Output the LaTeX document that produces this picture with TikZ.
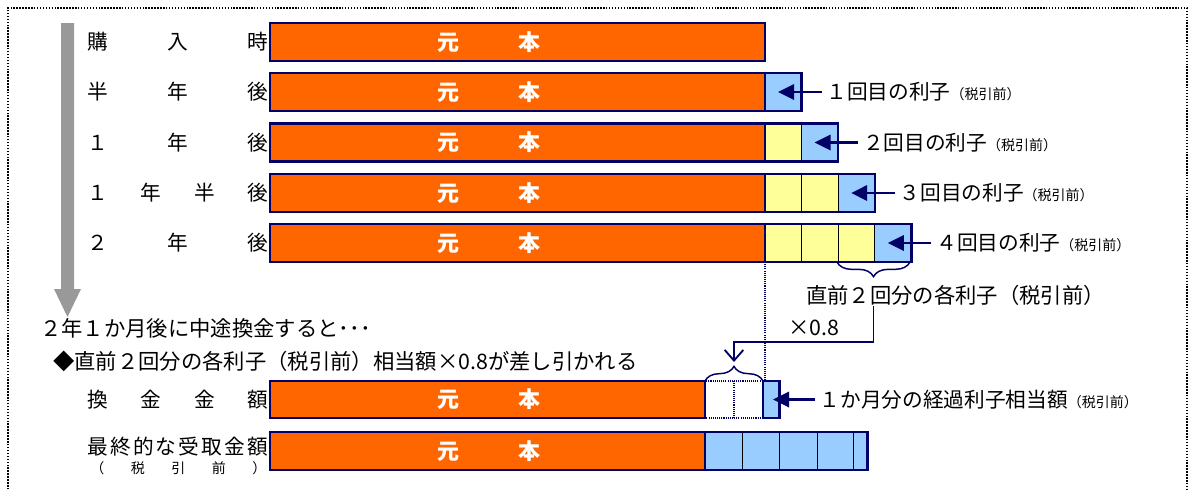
\documentclass[tikz,border=0pt]{standalone}
\usepackage{fontspec}
\setmainfont{Noto Sans CJK JP}
\usepackage{tikz}
\usetikzlibrary{arrows.meta,decorations.pathreplacing}

\definecolor{navyline}{HTML}{000066}
\definecolor{orangebar}{HTML}{FF6600}
\definecolor{cellblue}{HTML}{99CCFF}
\definecolor{cellyellow}{HTML}{FFFF99}
\definecolor{arrowgray}{HTML}{999999}

\newcommand{\spreadbox}[2]{\makebox[#1]{#2}}
\newcommand{\taxnote}{{\fontsize{10.5pt}{12pt}\selectfont （税引前）}}

\tikzset{
  principal/.style={fill=orangebar, draw=navyline, line width=1.7pt},
  cellyel/.style={fill=cellyellow, draw=black, line width=0.75pt},
  cellblu/.style={fill=cellblue, draw=black, line width=0.75pt},
  celledge/.style={draw=navyline, line width=1.7pt},
  dotedge/.style={draw=navyline, line width=1.1pt, dash pattern=on 0.8pt off 0.8pt},
  rowlabel/.style={anchor=west, inner sep=0pt, font=\fontsize{15.5pt}{18pt}\selectfont},
  pricelabel/.style={inner sep=0pt, text=white, font=\fontsize{16.5pt}{19pt}\selectfont\bfseries},
  notelabel/.style={anchor=west, inner xsep=3.5pt, inner ysep=0.75pt, font=\fontsize{15.5pt}{18pt}\selectfont},
  pointer/.style={draw=navyline, line width=1.8pt, -{Triangle[length=12pt,width=11.5pt]}},
  bentpointer/.style={draw=navyline, line width=1.4pt, -{Straight Barb[length=8pt,width=14pt]}},
  curly/.style={draw=navyline, line width=1.1pt, decorate, decoration={brace, amplitude=11pt}},
  frameline/.style={draw=black, line width=1.1pt, dash pattern=on 1.1pt off 1.1pt}
}

\begin{document}
\begin{tikzpicture}[x=0.75pt,y=0.75pt,yscale=-1,xscale=1]
\useasboundingbox (0,0) rectangle (1192,490);

%Shape: Frame
\draw [frameline] (8,510) -- (8,8) -- (1187,8) -- (1187,510) ;
%Shape: Gray time arrow
\fill [arrowgray] (61,23) -- (74,23) -- (74,289) -- (81,289) -- (67.5,317) -- (54,289) -- (61,289) -- cycle ;

%Shape: Cells row 2
\draw [cellblu] (765,73) rectangle (801.6,111) ;
\draw [celledge] (765,73) rectangle (801.6,111) ;
%Shape: Cells row 3
\draw [cellyel] (765,123.5) rectangle (801.6,161.5) ;
\draw [cellblu] (801.6,123.5) rectangle (838.2,161.5) ;
\draw [celledge] (765,123.5) rectangle (838.2,161.5) ;
%Shape: Cells row 4
\draw [cellyel] (765,174) rectangle (801.6,212) ;
\draw [cellyel] (801.6,174) rectangle (838.2,212) ;
\draw [cellblu] (838.2,174) rectangle (874.8,212) ;
\draw [celledge] (765,174) rectangle (874.8,212) ;
%Shape: Cells row 5
\draw [cellyel] (765,224) rectangle (801.6,262) ;
\draw [cellyel] (801.6,224) rectangle (838.2,262) ;
\draw [cellyel] (838.2,224) rectangle (874.8,262) ;
\draw [cellblu] (874.8,224) rectangle (911.4,262) ;
\draw [celledge] (765,224) rectangle (911.4,262) ;

%Shape: Principal bars
\draw [principal] (270,23) rectangle (765,61) ;
\draw [principal] (270,73) rectangle (765,111) ;
\draw [principal] (270,123.5) rectangle (765,161.5) ;
\draw [principal] (270,174) rectangle (765,212) ;
\draw [principal] (270,224) rectangle (765,262) ;

%Straight Lines: dotted guide
\draw [dotedge] (765,262) -- (765,381) ;
%Shape: Deducted part
\draw [dotedge] (705,381) rectangle (763,418) ;
\draw [dotedge] (734,381) -- (734,418) ;
%Shape: Accrued cell
\draw [fill=cellblue] [celledge] (763,381) rectangle (779.5,418) ;
\draw [principal] (270,381) rectangle (705,418) ;

%Shape: Final cells
\draw [cellblu] (705,432) rectangle (742,470) ;
\draw [cellblu] (742,432) rectangle (779,470) ;
\draw [cellblu] (779,432) rectangle (817,470) ;
\draw [cellblu] (817,432) rectangle (853,470) ;
\draw [cellblu] (853,432) rectangle (867.5,470) ;
\draw [celledge] (705,432) rectangle (867.5,470) ;
\draw [principal] (270,432) rectangle (705,470) ;

%Shape: Braces
\draw [curly] (910,262) -- (837,262) ;
\draw [curly] (705,381) -- (763,381) ;

% Text Node
\draw (87,42) node [rowlabel] (lblbuy) {\spreadbox{135.75pt}{購\hfill 入\hfill 時}};
% Text Node
\draw (87,92) node [rowlabel] (lblhalf) {\spreadbox{135.75pt}{半\hfill 年\hfill 後}};
% Text Node
\draw (87,142.5) node [rowlabel] (lblone) {\spreadbox{135.75pt}{１\hfill 年\hfill 後}};
% Text Node
\draw (87,193) node [rowlabel] (lbloneh) {\spreadbox{135.75pt}{１\hfill 年\hfill 半\hfill 後}};
% Text Node
\draw (87,243) node [rowlabel] (lbltwo) {\spreadbox{135.75pt}{２\hfill 年\hfill 後}};
% Text Node
\draw (87,399.5) node [rowlabel] (lblcash) {\spreadbox{135.75pt}{換\hfill 金\hfill 金\hfill 額}};
% Text Node
\draw (87,447) node [rowlabel] (lblfinal) {\spreadbox{135.75pt}{最\hfill 終\hfill 的\hfill な\hfill 受\hfill 取\hfill 金\hfill 額}};
% Text Node
\draw (90,468) node [rowlabel, font=\fontsize{10.5pt}{12pt}\selectfont] (lblfinaltax) {\spreadbox{132pt}{（\hfill 税\hfill 引\hfill 前\hfill ）}};

% Text Node
\draw (489,42) node [pricelabel] (gp1) {\spreadbox{77.25pt}{元\hfill 本}};
% Text Node
\draw (489,92) node [pricelabel] (gp2) {\spreadbox{77.25pt}{元\hfill 本}};
% Text Node
\draw (489,142.5) node [pricelabel] (gp3) {\spreadbox{77.25pt}{元\hfill 本}};
% Text Node
\draw (489,193) node [pricelabel] (gp4) {\spreadbox{77.25pt}{元\hfill 本}};
% Text Node
\draw (489,243) node [pricelabel] (gp5) {\spreadbox{77.25pt}{元\hfill 本}};
% Text Node
\draw (489,399.5) node [pricelabel] (gp6) {\spreadbox{77.25pt}{元\hfill 本}};
% Text Node
\draw (489,451) node [pricelabel] (gp7) {\spreadbox{77.25pt}{元\hfill 本}};

% Text Node
\draw (821.6,92) node [notelabel] (int1) {１回目の利子\taxnote};
% Text Node
\draw (858.2,142.5) node [notelabel] (int2) {２回目の利子\taxnote};
% Text Node
\draw (894.8,193) node [notelabel] (int3) {３回目の利子\taxnote};
% Text Node
\draw (931.4,243) node [notelabel] (int4) {４回目の利子\taxnote};
% Text Node
\draw (815,399.5) node [notelabel] (accr) {１か月分の経過利子相当額\taxnote};
% Text Node
\draw (805,295) node [anchor=west] [inner sep=0.75pt] [font=\fontsize{16pt}{19pt}\selectfont] (prior2) {直前２回分の各利子（税引前）};
% Text Node
\draw (787,328) node [anchor=west] [inner sep=0.75pt] [font=\fontsize{16pt}{19pt}\selectfont] (factor) {×0.8};
% Text Node
\draw (40,328) node [anchor=west] [inner sep=0pt] [font=\fontsize{16pt}{19pt}\selectfont] (whenredeem) {２年１か月後に中途換金すると･･･};
% Text Node
\draw (53,361) node [anchor=west] [inner sep=0pt] [font=\fontsize{16pt}{19pt}\selectfont] (deduct) {◆直前２回分の各利子（税引前）相当額×0.8が差し引かれる};

%Connectors
\coordinate (tip1) at (778,92) ;
\coordinate (tip2) at (814.6,142.5) ;
\coordinate (tip3) at (851.2,193) ;
\coordinate (tip4) at (887.8,243) ;
\coordinate (tip6) at (773,399.5) ;
\draw [pointer] (int1.west) -- (tip1) ;
\draw [pointer] (int2.west) -- (tip2) ;
\draw [pointer] (int3.west) -- (tip3) ;
\draw [pointer] (int4.west) -- (tip4) ;
\draw [pointer] (accr.west) -- (tip6) ;

\coordinate (brtip) at (873.5,277) ;
\coordinate (elbow) at (734,342) ;
\coordinate (lowtip) at (734,362) ;
\draw [bentpointer] (prior2.south -| brtip) |- (elbow) -- (lowtip) ;

\end{tikzpicture}
\end{document}
